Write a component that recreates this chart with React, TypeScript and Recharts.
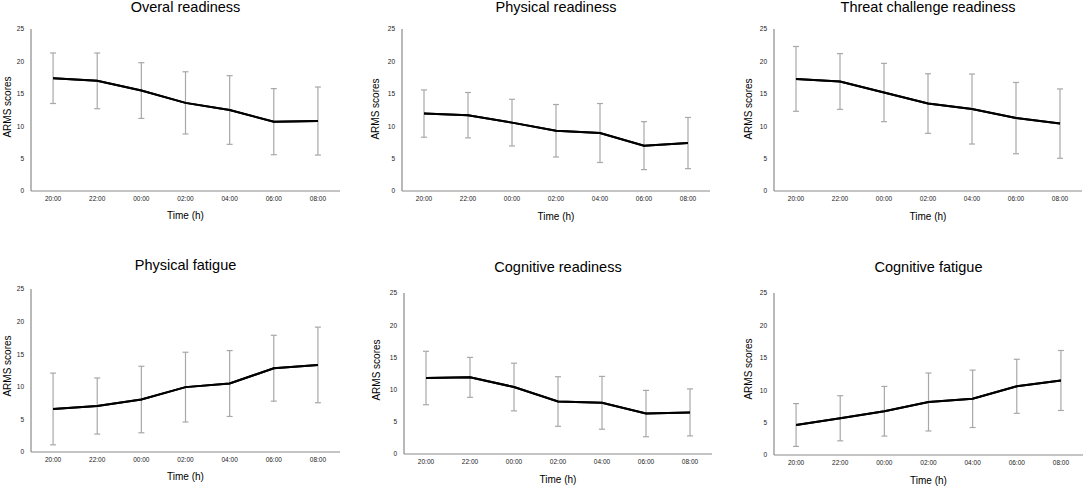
import React from "react";
import { LineChart, Line, XAxis, YAxis, ErrorBar } from "recharts";

const times = ["20:00", "22:00", "00:00", "02:00", "04:00", "06:00", "08:00"];
const yTicks = [0, 5, 10, 15, 20, 25];

const overalMean = [17.4, 17.0, 15.5, 13.6, 12.5, 10.7, 10.8];
const overalSd = [3.9, 4.3, 4.3, 4.8, 5.3, 5.1, 5.25];

const physReadyMean = [11.95, 11.7, 10.55, 9.3, 8.95, 7.0, 7.4];
const physReadySd = [3.65, 3.5, 3.6, 4.05, 4.55, 3.7, 3.95];

const threatMean = [17.3, 16.9, 15.2, 13.5, 12.65, 11.25, 10.4];
const threatSd = [5.0, 4.3, 4.5, 4.6, 5.4, 5.5, 5.35];

const physFatigueMean = [6.6, 7.05, 8.05, 9.95, 10.5, 12.85, 13.35];
const physFatigueSd = [5.5, 4.3, 5.1, 5.35, 5.05, 5.05, 5.8];

const cogReadyMean = [11.8, 11.9, 10.4, 8.15, 7.95, 6.28, 6.46];
const cogReadySd = [4.15, 3.1, 3.7, 3.85, 4.1, 3.6, 3.65];

const cogFatigueMean = [4.63, 5.67, 6.75, 8.18, 8.67, 10.6, 11.5];
const cogFatigueSd = [3.3, 3.48, 3.83, 4.47, 4.43, 4.17, 4.63];

const FONT = '"Liberation Sans", Arial, sans-serif';

type PanelCfg = {
  title: string;
  mean: number[];
  sd: number[];
  plot: [number, number, number, number]; // left, right, top, bottom
  titleY: number;
  armsX: number;
  armsY: number;
  timeY: number;
};

const panels: PanelCfg[] = [
  { title: "Overal readiness", mean: overalMean, sd: overalSd, plot: [31, 340, 29, 191], titleY: 7, armsX: 8, armsY: 107, timeY: 216 },
  { title: "Physical readiness", mean: physReadyMean, sd: physReadySd, plot: [402, 710, 29, 191], titleY: 7, armsX: 376, armsY: 109, timeY: 217 },
  { title: "Threat challenge readiness", mean: threatMean, sd: threatSd, plot: [774, 1082, 29, 191], titleY: 7, armsX: 749, armsY: 109, timeY: 217 },
  { title: "Physical fatigue", mean: physFatigueMean, sd: physFatigueSd, plot: [31, 340, 289, 452], titleY: 265, armsX: 8, armsY: 366, timeY: 477 },
  { title: "Cognitive readiness", mean: cogReadyMean, sd: cogReadySd, plot: [404, 712, 293, 454], titleY: 267, armsX: 377, armsY: 370, timeY: 480 },
  { title: "Cognitive fatigue", mean: cogFatigueMean, sd: cogFatigueSd, plot: [774, 1083, 293, 455], titleY: 267, armsX: 749, armsY: 369, timeY: 481 },
];

const YW = 30;
const XH = 20;

function Panel({ cfg }: { cfg: PanelCfg }) {
  const [pl, pr, pt, pb] = cfg.plot;
  const data = times.map((t, i) => ({ time: t, mean: cfg.mean[i], sd: cfg.sd[i] }));
  const plotW = pr - pl;
  const plotH = pb - pt;
  const chartLeft = pl - YW;
  const chartTop = pt - 10;
  const width = plotW + YW + 10;
  const height = plotH + 10 + XH + 5;
  const pad = plotW / 14;
  const cx = (pl + pr) / 2;
  return (
    <>
      <div
        style={{
          position: "absolute",
          left: cx - 150,
          width: 300,
          top: cfg.titleY - 9,
          height: 18,
          lineHeight: "18px",
          textAlign: "center",
          fontFamily: FONT,
          fontSize: 14.5,
          color: "#000",
          whiteSpace: "nowrap",
        }}
      >
        {cfg.title}
      </div>
      <div
        style={{
          position: "absolute",
          left: cfg.armsX - 50,
          top: cfg.armsY - 7,
          width: 100,
          height: 14,
          lineHeight: "14px",
          textAlign: "center",
          fontFamily: FONT,
          fontSize: 10,
          color: "#000",
          transform: "rotate(-90deg)",
          whiteSpace: "nowrap",
        }}
      >
        ARMS scores
      </div>
      <div
        style={{
          position: "absolute",
          left: cx - 50,
          top: cfg.timeY - 7,
          width: 100,
          height: 14,
          lineHeight: "14px",
          textAlign: "center",
          fontFamily: FONT,
          fontSize: 10,
          color: "#000",
          whiteSpace: "nowrap",
        }}
      >
        Time (h)
      </div>
      <div style={{ position: "absolute", left: chartLeft, top: chartTop }}>
        <LineChart
          width={width}
          height={height}
          data={data}
          margin={{ top: 10, right: 10, bottom: 5, left: 0 }}
        >
          <XAxis
            dataKey="time"
            height={XH}
            padding={{ left: pad, right: pad }}
            tickLine={false}
            tickSize={0}
            tickMargin={5}
            axisLine={{ stroke: "#8a8a8a", strokeWidth: 1.2 }}
            tick={{ fontSize: 6.5, fill: "#222", fontFamily: FONT }}
            interval={0}
          />
          <YAxis
            width={YW}
            domain={[0, 25]}
            ticks={yTicks}
            tickLine={false}
            tickSize={0}
            tickMargin={7}
            axisLine={{ stroke: "#8a8a8a", strokeWidth: 1.2 }}
            tick={{ fontSize: 6.5, fill: "#222", fontFamily: FONT }}
            interval={0}
          />
          <Line
            type="linear"
            dataKey="mean"
            stroke="#000"
            strokeWidth={2}
            dot={false}
            activeDot={false}
            isAnimationActive={false}
          >
            <ErrorBar
              dataKey="sd"
              direction="y"
              width={3}
              stroke="#a8a8a8"
              strokeWidth={1.2}
              isAnimationActive={false}
            />
          </Line>
          <Line
            type="linear"
            dataKey="mean"
            stroke="#000"
            strokeWidth={2}
            dot={false}
            activeDot={false}
            isAnimationActive={false}
          />
        </LineChart>
      </div>
    </>
  );
}

export default function App() {
  return (
    <div
      style={{
        position: "absolute",
        left: 0,
        top: 0,
        width: 1084,
        height: 487,
        background: "#fff",
        overflow: "hidden",
      }}
    >
      {panels.map((p) => (
        <Panel key={p.title} cfg={p} />
      ))}
    </div>
  );
}
